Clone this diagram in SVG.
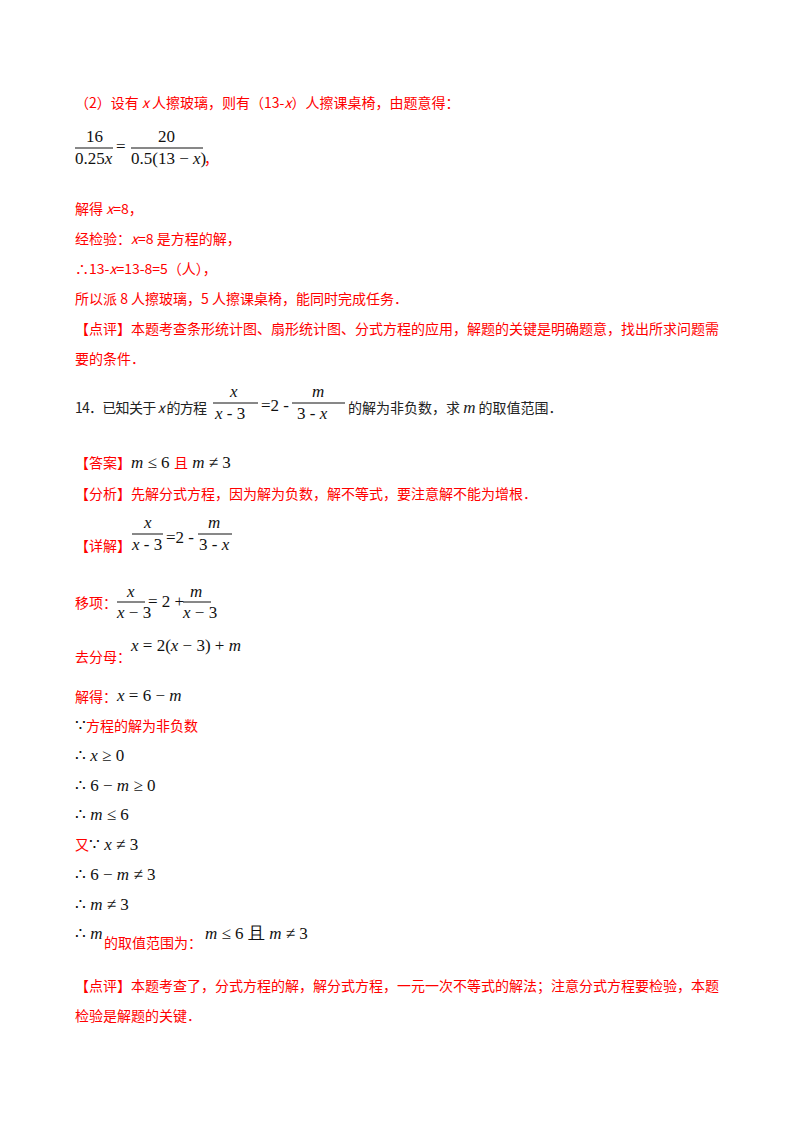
<svg xmlns="http://www.w3.org/2000/svg" width="800" height="1132" viewBox="0 0 800 1132">
<style>
.r{fill:#f00;font-family:"Noto Sans CJK SC","Liberation Sans",sans-serif;font-size:14px}
.k{fill:#222;font-family:"Noto Sans CJK SC","Liberation Sans",sans-serif;font-size:14px}
.m{fill:#111;font-family:"Liberation Serif",serif;font-size:17px}
.i{font-style:italic}
.ln{stroke:#111;stroke-width:1}
</style>
<rect width="800" height="1132" fill="#fff"/>
<g id="p2">
<text class="r" x="75" y="108">（2）设有 <tspan font-style="italic">x</tspan> 人擦玻璃，则有（13-<tspan font-style="italic">x</tspan>）人擦课桌椅，由题意得：</text>
<text class="m" x="86" y="142">16</text><line class="ln" x1="75" y1="148" x2="113" y2="148"/>
<text class="m" x="75" y="164">0.25<tspan class="i">x</tspan></text>
<text class="m" x="116" y="152">=</text>
<text class="m" x="158" y="142">20</text><line class="ln" x1="131" y1="148" x2="203" y2="148"/>
<text class="m" x="131" y="164">0.5(13 − <tspan class="i">x</tspan>)</text>
<text class="r" x="204" y="164">，</text>
<text class="r" x="75" y="214">解得 <tspan font-style="italic">x</tspan>=8，</text>
<text class="r" x="75" y="244">经检验：<tspan font-style="italic">x</tspan>=8 是方程的解，</text>
<text class="r" x="75" y="274">∴13-<tspan font-style="italic">x</tspan>=13-8=5（人），</text>
<text class="r" x="75" y="304">所以派 8 人擦玻璃，5 人擦课桌椅，能同时完成任务．</text>
<text class="r" x="75" y="334">【点评】本题考查条形统计图、扇形统计图、分式方程的应用，解题的关键是明确题意，找出所求问题需</text>
<text class="r" x="75" y="364">要的条件．</text>
</g>
<g id="q14">
<text class="k" x="75" y="413" textLength="132" lengthAdjust="spacing">14．已知关于 <tspan font-style="italic">x</tspan> 的方程</text>
<text class="m i" x="230" y="397">x</text><line class="ln" x1="213" y1="403" x2="258" y2="403"/>
<text class="m" x="215" y="419"><tspan class="i">x</tspan> - 3</text>
<text class="m" x="261" y="411">=2 -</text>
<text class="m i" x="312" y="397">m</text><line class="ln" x1="292" y1="403" x2="345" y2="403"/>
<text class="m" x="297" y="419">3 - <tspan class="i">x</tspan></text>
<text class="k" x="348" y="413">的解为非负数，求 <tspan font-family="Liberation Serif" font-style="italic" font-size="17">m</tspan> 的取值范围．</text>
</g>
<g id="answer">
<text class="r" x="75" y="468">【答案】</text>
<text class="m" x="131" y="468"><tspan class="i">m</tspan> ≤ 6 <tspan fill="#f00" font-family="Noto Sans CJK SC" font-size="14">且</tspan> <tspan class="i">m</tspan> ≠ 3</text>
<text class="r" x="75" y="499">【分析】先解分式方程，因为解为负数，解不等式，要注意解不能为增根．</text>
<text class="r" x="75" y="551">【详解】</text>
<text class="m i" x="144" y="528">x</text><line class="ln" x1="132" y1="534" x2="163" y2="534"/>
<text class="m" x="132" y="550"><tspan class="i">x</tspan> - 3</text>
<text class="m" x="166" y="543">=2 -</text>
<text class="m i" x="208" y="528">m</text><line class="ln" x1="198" y1="534" x2="232" y2="534"/>
<text class="m" x="199" y="550">3 - <tspan class="i">x</tspan></text>
<text class="r" x="75" y="608">移项：</text>
<text class="m i" x="127" y="597">x</text><line class="ln" x1="117" y1="602" x2="145" y2="602"/>
<text class="m" x="117" y="618"><tspan class="i">x</tspan> − 3</text>
<text class="m" x="148" y="607">= 2 +</text>
<text class="m i" x="190" y="597">m</text><line class="ln" x1="183" y1="602" x2="211" y2="602"/>
<text class="m" x="183" y="618"><tspan class="i">x</tspan> − 3</text>
<text class="r" x="75" y="662">去分母：</text>
<text class="m" x="131" y="651"><tspan class="i">x</tspan> = 2(<tspan class="i">x</tspan> − 3) + <tspan class="i">m</tspan></text>
<text class="r" x="75" y="702">解得：</text>
<text class="m" x="117" y="701"><tspan class="i">x</tspan> = 6 − <tspan class="i">m</tspan></text>
<text class="m" x="75" y="731">∵<tspan fill="#f00" font-family="Noto Sans CJK SC" font-size="14">方程的解为非负数</tspan></text>
<text class="m" x="75" y="761">∴ <tspan class="i">x</tspan> ≥ 0</text>
<text class="m" x="75" y="791">∴ 6 − <tspan class="i">m</tspan> ≥ 0</text>
<text class="m" x="75" y="820">∴ <tspan class="i">m</tspan> ≤ 6</text>
<text class="m" x="75" y="850"><tspan fill="#f00" font-family="Noto Sans CJK SC" font-size="14">又</tspan>∵ <tspan class="i">x</tspan> ≠ 3</text>
<text class="m" x="75" y="880">∴ 6 − <tspan class="i">m</tspan> ≠ 3</text>
<text class="m" x="75" y="910">∴ <tspan class="i">m</tspan> ≠ 3</text>
<text class="m" x="75" y="939">∴ <tspan class="i">m</tspan></text>
<text class="r" x="104" y="948">的取值范围为：</text>
<text class="m" x="205" y="939"><tspan class="i">m</tspan> ≤ 6 且 <tspan class="i">m</tspan> ≠ 3</text>
<text class="r" x="75" y="991">【点评】本题考查了，分式方程的解，解分式方程，一元一次不等式的解法；注意分式方程要检验，本题</text>
<text class="r" x="75" y="1021">检验是解题的关键．</text>
</g>
</svg>
